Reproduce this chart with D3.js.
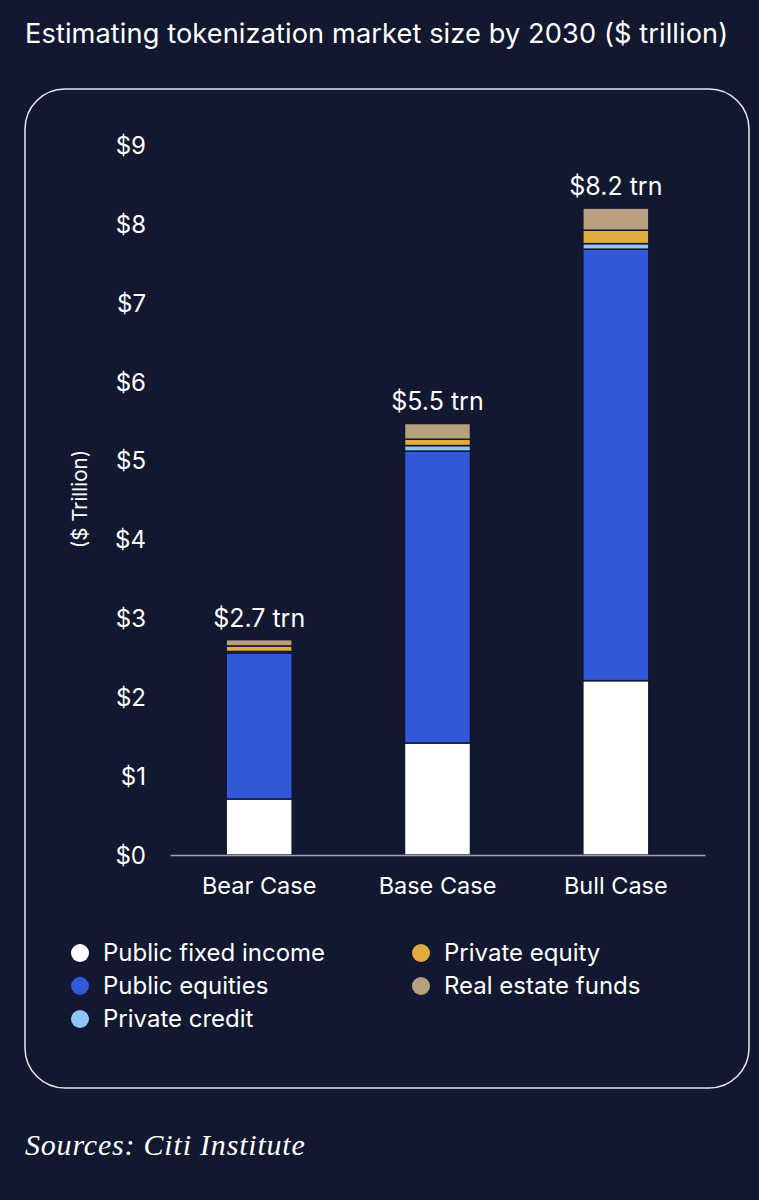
<!DOCTYPE html>
<html>
<head>
<meta charset="utf-8">
<script src="https://cdn.jsdelivr.net/npm/d3@7"></script>
<style>
  html, body { margin: 0; padding: 0; background: #111830; }
  svg { display: block; }
  text { font-family: Inter, "Noto Sans", sans-serif; fill: #ffffff; }
</style>
</head>
<body>
<div id="chart"></div>
<script>
const categories = ['Bear Case', 'Base Case', 'Bull Case'];
const seriesNames = ['Public fixed income', 'Public equities', 'Private credit', 'Private equity', 'Real estate funds'];
const publicFixedIncome = [0.71, 1.42, 2.21];
const publicEquities = [1.85, 3.70, 5.47];
const privateCredit = [0.02, 0.07, 0.07];
const privateEquity = [0.07, 0.08, 0.17];
const realEstateFunds = [0.08, 0.20, 0.28];
const totalLabels = ['$2.7 trn', '$5.5 trn', '$8.2 trn'];
const yTicks = [0, 1, 2, 3, 4, 5, 6, 7, 8, 9];

const colors = ['#ffffff', '#3357d9', '#8fc4f4', '#e2ab3f', '#b89f7d'];
const bg = '#111830';

const W = 759, H = 1200;
const svg = d3.select('#chart').append('svg')
    .attr('width', W)
    .attr('height', H);

svg.append('rect').attr('width', W).attr('height', H).attr('fill', bg);

// title
svg.append('text')
    .attr('x', 25)
    .attr('y', 43)
    .style('font-size', '27.2px')
    .style('letter-spacing', '0.1px')
    .text('Estimating tokenization market size by 2030 ($ trillion)');

// panel
svg.append('rect')
    .attr('x', 25).attr('y', 89)
    .attr('width', 724).attr('height', 999)
    .attr('rx', 40).attr('ry', 40)
    .attr('fill', 'none')
    .attr('stroke', '#e8e8ec')
    .attr('stroke-width', 1.5);

const x = d3.scaleBand().domain(categories).range([170, 705]).paddingInner(0.63).paddingOuter(0.315);
const y = d3.scaleLinear().domain([0, 9]).range([855, 145]);

const rows = categories.map((c, i) => ({
    cat: c,
    'Public fixed income': publicFixedIncome[i],
    'Public equities': publicEquities[i],
    'Private credit': privateCredit[i],
    'Private equity': privateEquity[i],
    'Real estate funds': realEstateFunds[i]
}));
const stacked = d3.stack().keys(seriesNames)(rows);

// y axis labels
const yAxis = svg.append('g')
    .attr('transform', 'translate(146,0)')
    .call(d3.axisLeft(y).tickValues(yTicks).tickSize(0).tickPadding(0).tickFormat(d => '$' + d));
yAxis.select('.domain').remove();
yAxis.selectAll('text')
    .style('font-size', '24px')
    .attr('fill', '#ffffff')
    .attr('dy', '0.35em');

svg.append('text')
    .attr('transform', 'translate(80,499) rotate(-90)')
    .attr('text-anchor', 'middle')
    .attr('dy', '0.35em')
    .style('font-size', '20.5px')
    .text('($ Trillion)');

// bars
svg.append('g').selectAll('g')
    .data(stacked)
    .join('g')
    .attr('fill', (d, i) => colors[i])
    .selectAll('rect')
    .data(d => d)
    .join('rect')
    .attr('x', d => x(d.data.cat))
    .attr('y', d => y(d[1]))
    .attr('width', x.bandwidth())
    .attr('height', d => y(d[0]) - y(d[1]))
    .attr('stroke', bg)
    .attr('stroke-width', 1.5);

// baseline
const xAxis = svg.append('g')
    .attr('transform', `translate(0,${y(0)})`)
    .call(d3.axisBottom(x).tickSize(0).tickPadding(22));
xAxis.select('.domain').attr('stroke', '#9aa0b2').attr('stroke-width', 1.5);
xAxis.selectAll('text')
    .style('font-size', '23.5px')
    .attr('fill', '#ffffff');

// totals
svg.append('g').selectAll('text')
    .data(categories)
    .join('text')
    .attr('x', d => x(d) + x.bandwidth() / 2)
    .attr('y', (d, i) => y(d3.sum([publicFixedIncome[i], publicEquities[i], privateCredit[i], privateEquity[i], realEstateFunds[i]])) - 13)
    .attr('text-anchor', 'middle')
    .style('font-size', '25px')
    .text((d, i) => totalLabels[i]);

// legend
const legendPos = [[80, 953], [80, 986], [80, 1019], [421, 953], [421, 986]];
const legend = svg.append('g').selectAll('g')
    .data(seriesNames)
    .join('g')
    .attr('transform', (d, i) => `translate(${legendPos[i][0]},${legendPos[i][1]})`);
legend.append('circle').attr('r', 9).attr('fill', (d, i) => colors[i]);
legend.append('text')
    .attr('x', 23)
    .attr('dy', '0.35em')
    .style('font-size', '24px')
    .text(d => d);

// source
svg.append('text')
    .attr('x', 25)
    .attr('y', 1155)
    .style('font-family', '"Liberation Serif", "DejaVu Serif", serif')
    .style('font-style', 'italic')
    .style('font-size', '30px')
    .style('letter-spacing', '0.8px')
    .attr('fill', '#d8d8de')
    .text('Sources: Citi Institute');
</script>
</body>
</html>
